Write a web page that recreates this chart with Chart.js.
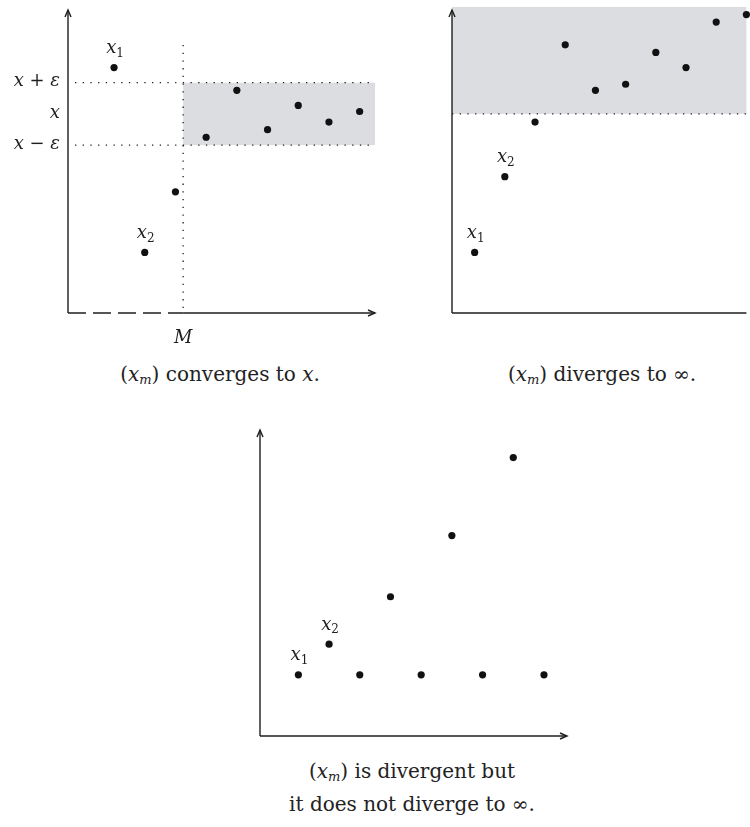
<!DOCTYPE html>
<html>
<head>
<meta charset="utf-8">
<script src="https://cdn.jsdelivr.net/npm/chart.js@4.4.1/dist/chart.umd.min.js"></script>
<style>
  body { margin: 0; background: #fff; }
  .wrap { position: relative; width: 750px; height: 827px; overflow: hidden; }
  canvas { position: absolute; }
  .cap { position: absolute; font-family: "DejaVu Serif", serif; font-size: 20px; color: #222;
         text-align: center; line-height: 33px; white-space: nowrap; }
  .cap sub { font-size: 13px; font-style: italic; vertical-align: -3px; line-height: 0; }
</style>
</head>
<body>
<div class="wrap">
  <canvas id="conv" style="left:0;top:0"></canvas>
  <canvas id="div" style="left:420px;top:0"></canvas>
  <canvas id="osc" style="left:230px;top:410px"></canvas>
  <div class="cap" style="left:20px;top:358px;width:400px">(<i>x</i><sub>m</sub>) converges to <i>x</i>.</div>
  <div class="cap" style="left:402px;top:358px;width:400px">(<i>x</i><sub>m</sub>) diverges to ∞.</div>
  <div class="cap" style="left:212px;top:755px;width:400px">(<i>x</i><sub>m</sub>) is divergent but<br>it does not diverge to ∞.</div>
</div>
<script>
// sequence data
const convSteps = [1, 2, 3, 4, 5, 6, 7, 8, 9];
const convValues = [8.1, 2.0, 4.0, 5.8, 7.35, 6.05, 6.85, 6.3, 6.65];
const limitValue = 6.57;
const epsilon = 1.03;
const cutoffM = 3.25;

const divSteps = [1, 2, 3, 4, 5, 6, 7, 8, 9, 10];
const divValues = [2.0, 4.5, 6.3, 8.85, 7.35, 7.55, 8.6, 8.1, 9.6, 9.85];
const divBound = 6.57;

const oscSteps = [1, 2, 3, 4, 5, 6, 7, 8, 9];
const oscValues = [2.0, 3.0, 2.0, 4.55, 2.0, 6.55, 2.0, 9.1, 2.0];

const ink = '#1e1e1e';
const shade = '#dcdde0';
const serif = '"DejaVu Serif", serif';

function toPoints(xs, ys) {
  return xs.map((x, i) => ({ x: x, y: ys[i] }));
}

// draw pieces of text like [{t:'x', i:true}, {t:' + '}] ; align right or center
function drawRuns(ctx, runs, x, y, align) {
  const fontOf = r => (r.i ? 'italic ' : '') + (r.sub ? '12px ' : '18px ') + serif;
  let w = 0;
  runs.forEach(r => {
    ctx.font = fontOf(r);
    w += ctx.measureText(r.t).width;
  });
  let cx = align === 'right' ? x - w : align === 'center' ? x - w / 2 : x;
  ctx.textBaseline = 'middle';
  ctx.textAlign = 'left';
  ctx.fillStyle = ink;
  runs.forEach(r => {
    ctx.font = fontOf(r);
    ctx.fillText(r.t, cx, r.sub ? y + 5 : y);
    cx += ctx.measureText(r.t).width;
  });
}

function dotted(ctx, x0, y0, x1, y1) {
  ctx.save();
  ctx.strokeStyle = ink;
  ctx.lineWidth = 1.3;
  ctx.setLineDash([1.3, 6.4]);
  ctx.beginPath();
  ctx.moveTo(x0, y0);
  ctx.lineTo(x1, y1);
  ctx.stroke();
  ctx.restore();
}

function arrowHead(ctx, x, y, dir) {
  ctx.beginPath();
  if (dir === 'up') {
    ctx.moveTo(x - 3, y + 7); ctx.lineTo(x, y); ctx.lineTo(x + 3, y + 7);
  } else {
    ctx.moveTo(x - 7, y - 3); ctx.lineTo(x, y); ctx.lineTo(x - 7, y + 3);
  }
  ctx.stroke();
}

const mathAxes = {
  id: 'mathAxes',
  beforeDatasetsDraw(chart, args, o) {
    const ctx = chart.ctx, xs = chart.scales.x, ys = chart.scales.y;
    const a = chart.chartArea;
    ctx.save();
    if (o.band) {
      const x0 = o.band.x0 !== undefined ? xs.getPixelForValue(o.band.x0) : a.left;
      const y0 = ys.getPixelForValue(o.band.y0);
      const y1 = ys.getPixelForValue(o.band.y1);
      ctx.fillStyle = shade;
      ctx.fillRect(x0, y1, a.right - x0, y0 - y1);
    }
    (o.hLines || []).forEach(v => {
      const py = ys.getPixelForValue(v);
      dotted(ctx, o.hLineStart !== undefined ? o.hLineStart : a.left, py, a.right, py);
    });
    if (o.vLine !== undefined) {
      const px = xs.getPixelForValue(o.vLine);
      dotted(ctx, px, a.top + 35, px, a.bottom);
    }
    // axes
    ctx.strokeStyle = ink;
    ctx.lineWidth = 1.4;
    ctx.setLineDash([]);
    ctx.beginPath();
    ctx.moveTo(a.left, a.bottom);
    ctx.lineTo(a.left, a.top);
    ctx.stroke();
    arrowHead(ctx, a.left, a.top, 'up');
    const xStart = o.dashTo !== undefined ? xs.getPixelForValue(o.dashTo) : a.left;
    if (o.dashTo !== undefined) {
      ctx.save();
      ctx.setLineDash([18, 7]);
      ctx.beginPath();
      ctx.moveTo(a.left, a.bottom);
      ctx.lineTo(xStart, a.bottom);
      ctx.stroke();
      ctx.restore();
    }
    ctx.beginPath();
    ctx.moveTo(xStart, a.bottom);
    ctx.lineTo(a.right, a.bottom);
    ctx.stroke();
    if (o.arrowX) arrowHead(ctx, a.right, a.bottom, 'right');
    ctx.restore();
  },
  afterDatasetsDraw(chart, args, o) {
    const ctx = chart.ctx, xs = chart.scales.x, ys = chart.scales.y;
    const a = chart.chartArea;
    ctx.save();
    (o.yTicks || []).forEach(t => {
      drawRuns(ctx, t.runs, a.left - 8, ys.getPixelForValue(t.v) - 1, 'right');
    });
    if (o.mLabel !== undefined) {
      drawRuns(ctx, [{ t: 'M', i: true }], xs.getPixelForValue(o.mLabel), a.bottom + 25, 'center');
    }
    // x1, x2 labels above the first two points
    const pts = chart.data.datasets[0].data;
    [0, 1].forEach(k => {
      const px = xs.getPixelForValue(pts[k].x);
      const py = ys.getPixelForValue(pts[k].y);
      drawRuns(ctx, [{ t: 'x', i: true }, { t: String(k + 1), sub: true }], px + 1, py - 19, 'center');
    });
    ctx.restore();
  }
};

function makeChart(id, w, h, pad, xs, ys, xMin, xMax, axesOpts) {
  const cv = document.getElementById(id);
  cv.width = w;
  cv.height = h;
  cv.style.width = w + 'px';
  cv.style.height = h + 'px';
  return new Chart(cv, {
    type: 'scatter',
    data: {
      datasets: [{
        data: toPoints(xs, ys),
        pointRadius: 3.6,
        pointHoverRadius: 3.6,
        pointBackgroundColor: '#111',
        pointBorderWidth: 0,
        clip: false
      }]
    },
    options: {
      responsive: false,
      maintainAspectRatio: false,
      animation: false,
      events: [],
      layout: { padding: pad },
      scales: {
        x: { type: 'linear', min: xMin, max: xMax, display: false },
        y: { type: 'linear', min: 0, max: 10, display: false }
      },
      plugins: {
        legend: { display: false },
        tooltip: { enabled: false },
        mathAxes: axesOpts
      }
    },
    plugins: [mathAxes]
  });
}

makeChart('conv', 400, 350, { left: 68, right: 25, top: 10, bottom: 37 },
  convSteps, convValues, -0.5, 9.5, {
    arrowX: true,
    dashTo: cutoffM,
    vLine: cutoffM,
    mLabel: cutoffM,
    band: { x0: cutoffM, y0: limitValue - epsilon, y1: limitValue + epsilon },
    hLines: [limitValue - epsilon, limitValue + epsilon],
    hLineStart: 75,
    yTicks: [
      { v: limitValue + epsilon, runs: [{ t: 'x', i: true }, { t: ' + ' }, { t: 'ε', i: true }] },
      { v: limitValue, runs: [{ t: 'x', i: true }] },
      { v: limitValue - epsilon, runs: [{ t: 'x', i: true }, { t: ' − ' }, { t: 'ε', i: true }] }
    ]
  });

makeChart('div', 330, 350, { left: 32, right: 0, top: 10, bottom: 37 },
  divSteps, divValues, 0.25, 10, {
    arrowX: false,
    band: { y0: divBound, y1: 10.1 },
    hLines: [divBound]
  });

makeChart('osc', 360, 340, { left: 30, right: 23, top: 20, bottom: 14 },
  oscSteps, oscValues, -0.25, 9.75, {
    arrowX: true
  });
</script>
</body>
</html>
